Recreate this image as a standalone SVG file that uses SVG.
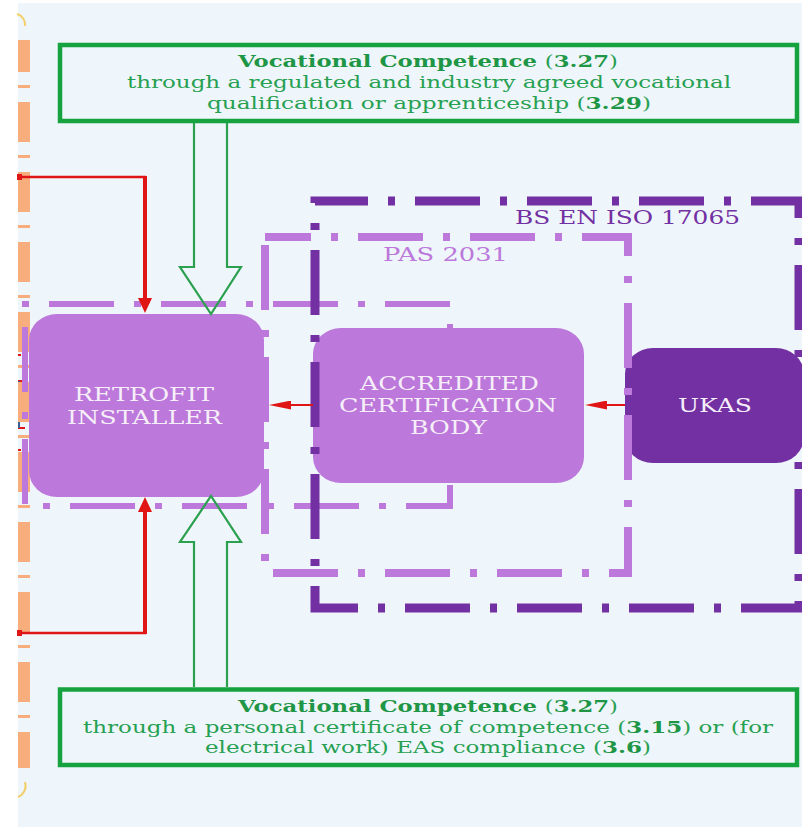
<svg xmlns="http://www.w3.org/2000/svg" width="802" height="827" viewBox="0 0 802 827">
<defs>
<style>
.frame{fill:none;stroke-dasharray:65 20 7 20}
.node-text{font-family:"DejaVu Serif","Liberation Serif",serif;font-size:18px;fill:#F6EEF9}
.label{font-family:"DejaVu Serif","Liberation Serif",serif;font-size:18px}
.gbox{fill:none;stroke:#16A23E;stroke-width:4.5}
.gtext{font-family:"DejaVu Serif","Liberation Serif",serif;font-size:17px;fill:#27A052}
.b{font-weight:bold;fill:#1E9646}
.garrow{fill:none;stroke:#2BA04E;stroke-width:2.2;stroke-linejoin:miter}
.red{stroke:#E01515;fill:none}
</style>
<marker id="headV" viewBox="0 -7 15 14" refX="0" refY="0" markerWidth="15" markerHeight="14" markerUnits="userSpaceOnUse" orient="auto">
<path d="M0,-7 L15,0 L0,7 z" fill="#E01515"/>
</marker>
<marker id="headH" viewBox="0 -4.5 22 9" refX="0" refY="0" markerWidth="22" markerHeight="9" markerUnits="userSpaceOnUse" orient="auto">
<path d="M0,-4.5 L22,0 L0,4.5 z" fill="#E01515"/>
</marker>
</defs>

<g id="background">
<rect x="0" y="0" width="802" height="827" fill="#FFFFFF"/>
<rect x="18" y="3" width="784" height="824" fill="#EEF6FB"/>
<path d="M17,14 A11 11 0 0 1 25,26" fill="none" stroke="#F3CF6A" stroke-width="2"/>
<path d="M25,782 A12 12 0 0 1 18,797" fill="none" stroke="#F3CF6A" stroke-width="2"/>
<path d="M18,355 H21 M18,450 H21 M18,381 H25 M18,428 H25" stroke="#E01515" stroke-width="2"/>
<line x1="19" y1="381" x2="19" y2="428" stroke="#3A5F9A" stroke-width="2"/>
<line x1="24" y1="40" x2="24" y2="768" stroke="#F7AE7C" stroke-width="12" stroke-dasharray="40 13 3 14" stroke-dashoffset="8"/>
</g>

<g id="retrofit-installer">
<rect x="29" y="314" width="235" height="183" rx="28" ry="26" fill="#BC78DA"/>
<text class="node-text" x="74" y="401" textLength="140" lengthAdjust="spacingAndGlyphs">RETROFIT</text>
<text class="node-text" x="67" y="424" textLength="155" lengthAdjust="spacingAndGlyphs">INSTALLER</text>
</g>

<g id="accredited-certification-body">
<rect x="313" y="328" width="271" height="155" rx="28" ry="26" fill="#BC78DA"/>
<text class="node-text" x="360" y="390" textLength="179" lengthAdjust="spacingAndGlyphs">ACCREDITED</text>
<text class="node-text" x="339" y="412" textLength="218" lengthAdjust="spacingAndGlyphs">CERTIFICATION</text>
<text class="node-text" x="410" y="434" textLength="77" lengthAdjust="spacingAndGlyphs">BODY</text>
</g>

<g id="ukas">
<rect x="625" y="348" width="179" height="115" rx="28" ry="26" fill="#7330A2"/>
<text class="node-text" x="678" y="412" textLength="74" lengthAdjust="spacingAndGlyphs">UKAS</text>
</g>

<g id="frames">
<path id="installer-scope" class="frame" d="M450,328 V304 H25 V506 H450 V483" stroke="#BC78DA" stroke-width="6" stroke-dashoffset="88"/>
<g id="pas-2031">
<rect class="frame" x="265" y="237" width="363" height="336" stroke="#BC78DA" stroke-width="8" stroke-dashoffset="19"/>
<text class="label" x="383" y="261" textLength="125" lengthAdjust="spacingAndGlyphs" fill="#BC78DA">PAS 2031</text>
</g>
<g id="bs-en-iso-17065">
<rect class="frame" x="315" y="201" width="484" height="407" stroke="#7330A2" stroke-width="9" stroke-dashoffset="12"/>
<text class="label" x="515" y="224" textLength="225" lengthAdjust="spacingAndGlyphs" fill="#7330A2">BS EN ISO 17065</text>
</g>
</g>

<g id="vocational-qualification">
<rect class="gbox" x="60" y="45" width="737" height="76"/>
<text class="gtext" x="238" y="67" textLength="380" lengthAdjust="spacingAndGlyphs"><tspan class="b">Vocational Competence </tspan>(<tspan class="b">3.27</tspan>)</text>
<text class="gtext" x="127" y="88" textLength="604" lengthAdjust="spacingAndGlyphs">through a regulated and industry agreed vocational</text>
<text class="gtext" x="207" y="109" textLength="444" lengthAdjust="spacingAndGlyphs">qualification or apprenticeship (<tspan class="b">3.29</tspan>)</text>
</g>

<g id="vocational-certificate">
<rect class="gbox" x="60" y="689.5" width="737" height="75.5"/>
<text class="gtext" x="238" y="712" textLength="380" lengthAdjust="spacingAndGlyphs"><tspan class="b">Vocational Competence </tspan>(<tspan class="b">3.27</tspan>)</text>
<text class="gtext" x="83" y="733" textLength="690" lengthAdjust="spacingAndGlyphs">through a personal certificate of competence (<tspan class="b">3.15</tspan>) or (for</text>
<text class="gtext" x="205" y="753" textLength="446" lengthAdjust="spacingAndGlyphs">electrical work) EAS compliance (<tspan class="b">3.6</tspan>)</text>
</g>

<g id="connectors">
<path class="garrow" d="M194,123 V267 H180 L211,314 L241,267 H227 V123"/>
<path class="garrow" d="M194,687 V542 H180 L211,496 L241,542 H227 V687"/>
<line class="red" x1="18" y1="177" x2="146" y2="177" stroke-width="2.5"/>
<line class="red" x1="145" y1="176" x2="145" y2="298" stroke-width="4" marker-end="url(#headV)"/>
<rect x="17" y="174" width="5" height="6" fill="#E01515"/>
<line class="red" x1="18" y1="633" x2="146" y2="633" stroke-width="2.5"/>
<line class="red" x1="145" y1="634" x2="145" y2="512" stroke-width="4" marker-end="url(#headV)"/>
<rect x="17" y="630" width="5" height="6" fill="#E01515"/>
<line class="red" x1="313" y1="405" x2="291" y2="405" stroke-width="2" marker-end="url(#headH)"/>
<line class="red" x1="625" y1="405" x2="607" y2="405" stroke-width="2" marker-end="url(#headH)"/>
</g>
</svg>
